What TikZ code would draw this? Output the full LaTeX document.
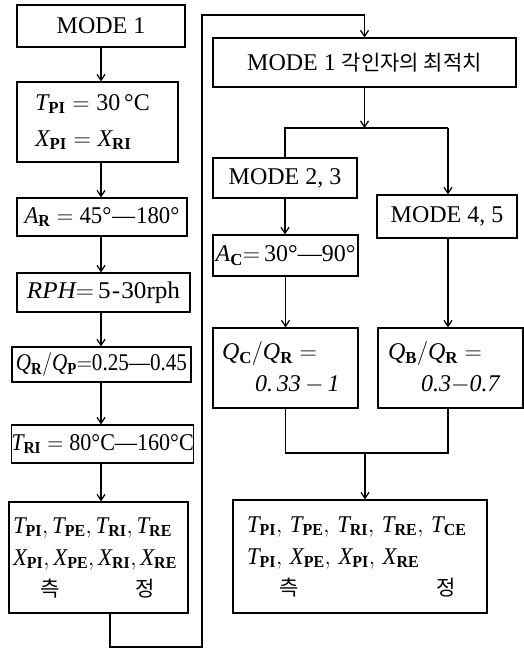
\RequirePackage{fix-cm}
\documentclass[tikz,border=0pt]{standalone}
\usepackage{fontspec}
\setmainfont{Liberation Serif}
\newfontfamily\kr{Noto Sans CJK KR}
\usetikzlibrary{arrows.meta}
\newcommand\ms[2]{\mathit{#1}_{\mathbf{#2}}}
\newcommand\krs{\kr\fontsize{21}{24}\selectfont}
\begin{document}
\begin{tikzpicture}[x=1pt,y=1pt,
  bx/.style={draw, line width=1.2pt, inner sep=0pt, font=\fontsize{24}{28}\selectfont},
  arr/.style={line width=1.2pt, -{Straight Barb[length=6pt,width=8pt]}},
  ln/.style={line width=1.2pt}]
\useasboundingbox (0,0) rectangle (524,650);
% left column
\node[bx, minimum width=168pt, minimum height=42pt] (m1) at (101,624) {MODE 1};
\node[bx, minimum width=161pt, minimum height=80pt, align=left, text width=125pt] (tp) at (97.5,528)
  {$\ms{T}{PI}={}$30\,°C\\[8pt]$\ms{X}{PI}=\ms{X}{RI}$};
\node[bx, minimum width=170pt, minimum height=38pt] (ar) at (102,433)
  {\scalebox{0.95}[1]{$\ms{A}{R}={}$45°\kern1pt—\kern1pt180°}};
\node[bx, minimum width=173pt, minimum height=39pt] (rph) at (103.5,357.5)
  {\scalebox{1.05}[1]{$\mathit{RPH}{=}$\,5\kern1pt-\kern1pt30rph}};
\node[bx, minimum width=179pt, minimum height=35pt] (q) at (101.5,285.5)
  {\scalebox{0.88}[1]{$\ms{Q}{R}/\ms{Q}{P}{=}$0.25—0.45}};
\node[bx, minimum width=181pt, minimum height=38pt] (tri) at (102.5,206)
  {\scalebox{0.92}[1]{$\ms{T}{RI}={}$80°C—160°C}};
\node[bx, minimum width=179pt, minimum height=111pt, align=left, text width=171pt] (lf) at (98.5,92.5)
  {\scalebox{0.95}[1]{$\ms{T}{PI},\ms{T}{PE},\ms{T}{RI},\ms{T}{RE}$}\\[4pt]
   \scalebox{0.95}[1]{$\ms{X}{PI},\ms{X}{PE},\ms{X}{RI},\ms{X}{RE}$}\\[3pt]
   \hspace*{27pt}{\krs 측}\hspace{76pt}{\krs 정}};
% right column
\node[bx, minimum width=303pt, minimum height=49pt] (opt) at (364.5,587.5)
  {MODE 1 {\krs 각인자의 최적치}};
\node[bx, minimum width=144pt, minimum height=40pt] (m23) at (285,472) {MODE 2, 3};
\node[bx, minimum width=140pt, minimum height=43pt] (m45) at (447,433.5) {MODE 4, 5};
\node[bx, minimum width=145pt, minimum height=41pt] (ac) at (285.5,394.5)
  {$\ms{A}{C}{=}$\,30°—90°};
\node[bx, minimum width=145pt, minimum height=80pt, align=left, text width=127pt] (qc) at (285.5,282)
  {$\ms{Q}{C}/\ms{Q}{R}=$\\[4pt]\hspace*{33pt}\textit{0.\,33}\,$-$\,\textit{1}};
\node[bx, minimum width=145pt, minimum height=80pt, align=left, text width=125pt] (qb) at (450.5,282)
  {$\ms{Q}{B}/\ms{Q}{R}=$\\[4pt]\hspace*{33pt}\textit{0.3}$-$\textit{0.7}};
\node[bx, minimum width=254pt, minimum height=113pt, align=left, text width=226pt] (rf) at (360,93.5)
  {\scalebox{0.95}[1]{$\ms{T}{PI},\,\ms{T}{PE},\,\ms{T}{RI},\,\ms{T}{RE},\,\ms{T}{CE}$}\\[4pt]
   \scalebox{0.95}[1]{$\ms{T}{PI},\,\ms{X}{PE},\,\ms{X}{PI},\,\ms{X}{RE}$}\\[3pt]
   \hspace*{32pt}{\krs 측}\hspace{138pt}{\krs 정}};
% left column arrows
\draw[arr] (m1.south) -- (m1.south |- tp.north);
\draw[arr] (tp.south -| m1.south) -- (ar.north -| m1.south);
\draw[arr] (ar.south -| m1.south) -- (rph.north -| m1.south);
\draw[arr] (rph.south -| m1.south) -- (q.north -| m1.south);
\draw[arr] (q.south -| m1.south) -- (tri.north -| m1.south);
\draw[arr] (tri.south -| m1.south) -- (lf.north -| m1.south);
% loop to right column
\coordinate (b1) at (110,3);
\coordinate (b2) at (202,3);
\coordinate (t1) at (202,635);
\draw[arr] (lf.south -| b1) -- (b1) -- (b2) -- (t1) -| (opt.north);
% right column
\coordinate (jn) at (364.5,522);
\coordinate (jr) at (448,522);
\coordinate (jb) at (365,197);
\draw[arr] (opt.south) -- (jn);
\draw[ln] (m23.north) -- (m23.north |- jn) -- (jr);
\draw[arr] (jr) -- (jr |- m45.north);
\draw[arr] (m23.south) -- (m23.south |- ac.north);
\draw[arr] (ac.south) -- (ac.south |- qc.north);
\draw[arr] (m45.south -| jr) -- (qb.north -| jr);
\draw[ln] (qc.south) -- (qc.south |- jb) -| (qb.south -| jr);
\draw[arr] (jb) -- (jb |- rf.north);
\end{tikzpicture}
\end{document}
